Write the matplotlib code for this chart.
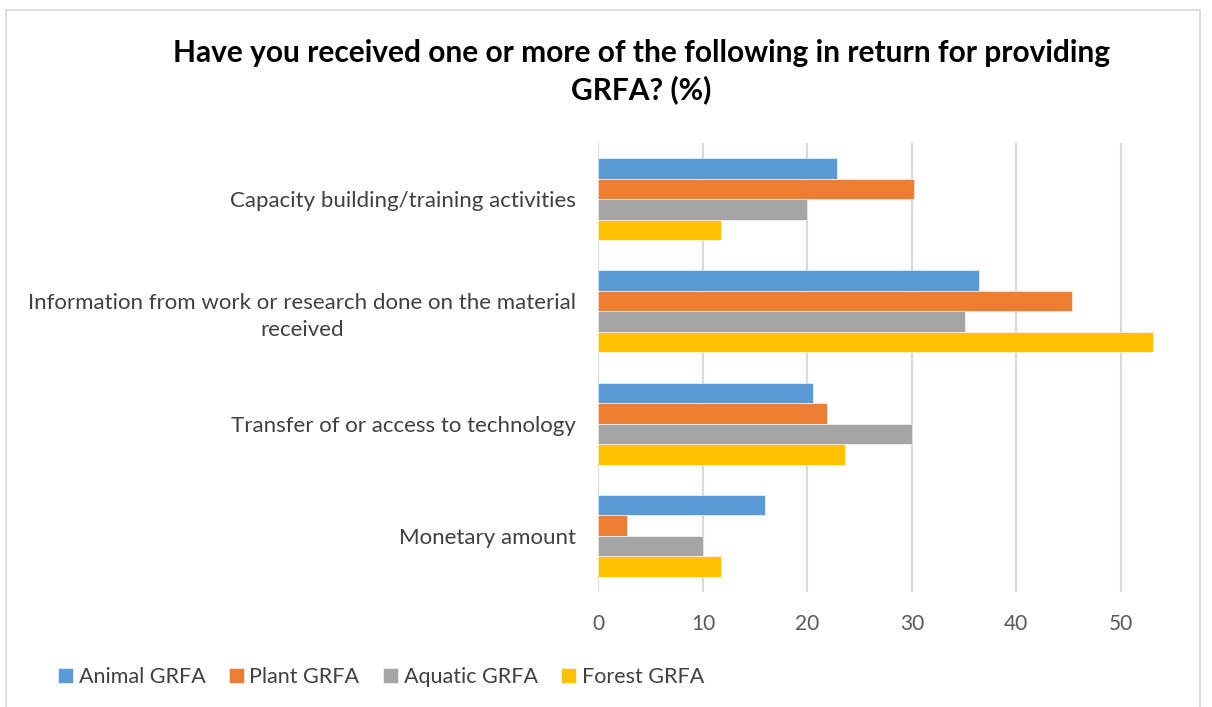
import numpy as np
from matplotlib import pyplot as plt
from matplotlib.patches import Rectangle

categories = [
    "Capacity building/training activities",
    "Information from work or research done on the material\nreceived",
    "Transfer of or access to technology",
    "Monetary amount",
]
series_names = ["Animal GRFA", "Plant GRFA", "Aquatic GRFA", "Forest GRFA"]
animal = [22.8, 36.4, 20.5, 15.9]
plant = [30.2, 45.3, 21.9, 2.7]
aquatic = [20.0, 35.1, 30.0, 10.0]
forest = [11.7, 53.1, 23.6, 11.7]
colors = ["#5B9BD5", "#ED7D31", "#A5A5A5", "#FFC000"]
title = "Have you received one or more of the following in return for providing\nGRFA? (%)"

plt.rcParams['font.family'] = ['Lato', 'DejaVu Sans']

fig = plt.figure(figsize=(12.12, 7.07), dpi=100)
ax = fig.add_axes([0.4938, 0.1627, 0.474, 0.635])

bar_h = 0.1826
y = np.arange(len(categories))
for i, (vals, name, c) in enumerate(zip([animal, plant, aquatic, forest], series_names, colors)):
    offset = (i - 1.5) * bar_h
    ax.barh(y + offset, vals, height=bar_h, color=c, label=name,
            edgecolor='white', linewidth=0.4, zorder=3)

ax.set_xlim(0, 55)
ax.set_ylim(len(categories) - 0.5, -0.5)
ax.set_xticks([0, 10, 20, 30, 40, 50])
ax.set_yticks(y)
ax.set_yticklabels(categories, multialignment='center', linespacing=1.4)
ax.tick_params(axis='y', length=0, pad=16, labelsize=16, labelcolor='#404040')
ax.tick_params(axis='x', length=0, pad=16, labelsize=15, labelcolor='#595959')
ax.grid(axis='x', color='#d9d9d9', linewidth=1.5, zorder=0)
for s in ax.spines.values():
    s.set_visible(False)

fig.text(0.529, 0.899, title, ha='center', va='center', fontsize=21.5,
         fontweight='bold', color='black', linespacing=1.35)

fig.legend(loc='center left', bbox_to_anchor=(0.032, 0.043), ncol=4, frameon=False,
           fontsize=15.5, handlelength=0.7, handleheight=0.7, handletextpad=0.25,
           columnspacing=1.1, labelcolor='#404040')

fig.patches.append(Rectangle((0.005, -0.01), 0.985, 0.996, transform=fig.transFigure,
                             fill=False, edgecolor='#d9d9d9', linewidth=1.2))

plt.savefig('out.png', dpi=100)
